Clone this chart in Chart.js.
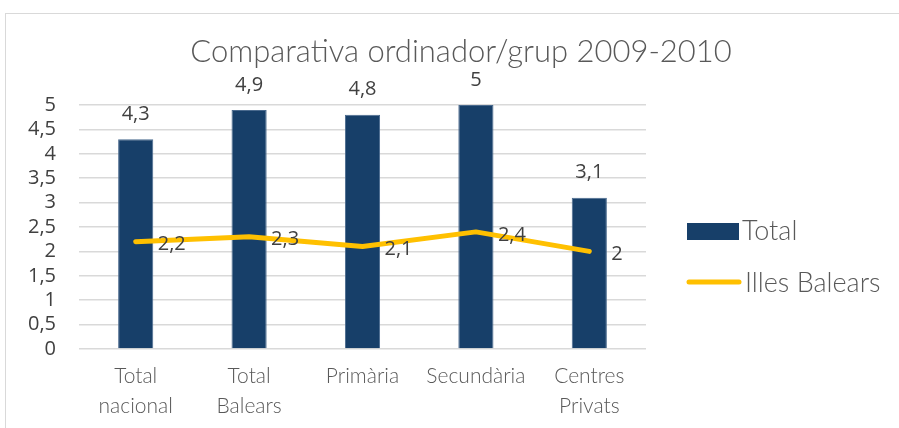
<!DOCTYPE html>
<html lang="ca">
<head>
    <meta charset="UTF-8">
    <title>Comparativa ordinador/grup 2009-2010</title>
    <script src="https://cdn.jsdelivr.net/npm/chart.js"></script>
    <style>
        html, body { margin: 0; padding: 0; background: #fff; overflow: hidden; }
        #marc { position: absolute; left: 5px; top: 13px; width: 1000px; height: 500px; border: 1px solid #d9d9d9; }
        #grafica { position: absolute; left: 0; top: 0; }
    </style>
</head>
<body>
    <div id="marc"></div>
    <canvas id="grafica" width="899" height="428"></canvas>

    <script>
        // Dades
        const categories = [['Total', 'nacional'], ['Total', 'Balears'], 'Primària', 'Secundària', ['Centres', 'Privats']];
        const valorsTotal = [4.3, 4.9, 4.8, 5, 3.1];
        const valorsBalears = [2.2, 2.3, 2.1, 2.4, 2];
        const nomsSeries = ['Total', 'Illes Balears'];
        const titol = 'Comparativa ordinador/grup 2009-2010';

        const colorBarra = '#173f69';
        const colorLinia = '#ffc000';
        const colorGris = '#595959';
        const colorFosc = '#404040';

        const ambComa = v => String(v).replace('.', ',');

        // Títol, etiquetes de dades i llegenda dibuixats a mà
        const extres = {
            id: 'extres',
            afterDraw(chart) {
                const ctx = chart.ctx;
                ctx.save();

                ctx.fillStyle = colorGris;
                ctx.font = '300 31px Lato';
                ctx.textAlign = 'center';
                ctx.textBaseline = 'middle';
                ctx.fillText(titol, 461, 52);

                ctx.font = '20px "Open Sans"';
                ctx.fillStyle = colorFosc;
                chart.getDatasetMeta(0).data.forEach((el, i) => {
                    ctx.textAlign = 'center';
                    ctx.fillText(ambComa(valorsTotal[i]), el.x, el.y - 25);
                });
                chart.getDatasetMeta(1).data.forEach((el, i) => {
                    ctx.textAlign = 'left';
                    ctx.fillText(ambComa(valorsBalears[i]), el.x + 22, el.y + 3);
                });

                // llegenda
                ctx.fillStyle = colorBarra;
                ctx.fillRect(687, 223, 52, 17);
                ctx.strokeStyle = colorLinia;
                ctx.lineWidth = 5;
                ctx.lineCap = 'round';
                ctx.beginPath();
                ctx.moveTo(689, 282);
                ctx.lineTo(739, 282);
                ctx.stroke();

                ctx.fillStyle = colorGris;
                ctx.font = '300 27px Lato';
                ctx.textAlign = 'left';
                ctx.fillText(nomsSeries[0], 742, 231);
                ctx.fillText(nomsSeries[1], 745, 283);
                ctx.restore();
            }
        };

        new Chart(document.getElementById('grafica'), {
            data: {
                labels: categories,
                datasets: [{
                    type: 'bar',
                    label: nomsSeries[0],
                    data: valorsTotal,
                    backgroundColor: colorBarra,
                    borderColor: '#4a6a8e',
                    borderWidth: 1,
                    barPercentage: 0.31,
                    categoryPercentage: 1,
                    order: 2
                }, {
                    type: 'line',
                    label: nomsSeries[1],
                    data: valorsBalears,
                    borderColor: colorLinia,
                    borderWidth: 5,
                    borderCapStyle: 'round',
                    borderJoinStyle: 'round',
                    pointRadius: 0,
                    tension: 0,
                    order: 1
                }]
            },
            options: {
                responsive: false,
                animation: false,
                layout: { padding: { left: 0, right: 253, top: 105, bottom: 0 } },
                plugins: {
                    legend: { display: false },
                    title: { display: false },
                    tooltip: { enabled: false }
                },
                scales: {
                    x: {
                        grid: { display: false, drawTicks: false },
                        border: { display: false },
                        ticks: {
                            color: colorGris,
                            font: { family: 'Lato', weight: '300', size: 21, lineHeight: 1.4 },
                            padding: 13,
                            maxRotation: 0,
                            autoSkip: false
                        },
                        afterFit: s => { s.height = 79; }
                    },
                    y: {
                        min: 0,
                        max: 5,
                        grid: { color: '#d9d9d9', lineWidth: 1.5, drawTicks: false },
                        border: { display: false },
                        ticks: {
                            stepSize: 0.5,
                            autoSkip: false,
                            color: colorFosc,
                            font: { family: '"Open Sans"', size: 20 },
                            padding: 23,
                            callback: v => ambComa(v)
                        },
                        afterFit: s => { s.width = 79; }
                    }
                }
            },
            plugins: [extres]
        });
    </script>
</body>
</html>
